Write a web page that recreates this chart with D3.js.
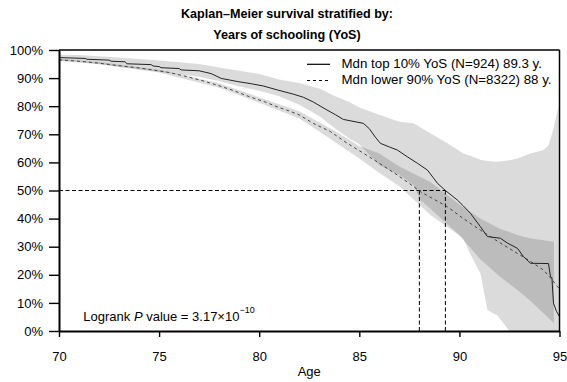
<!DOCTYPE html>
<html><head><meta charset="utf-8">
<script src="https://cdn.jsdelivr.net/npm/d3@7"></script>
<style>
body{margin:0;background:#fff}
svg{display:block}
text{font-family:"Liberation Sans",Arial,Helvetica,sans-serif;fill:#000}
</style></head><body>
<svg id="chart" width="567" height="382"></svg>
<script>
// ---- data (survival in %) ----
const titleLines = ["Kaplan\u2013Meier survival stratified by:", "Years of schooling (YoS)"];
const xTicks = [70, 75, 80, 85, 90, 95];
const yTicks = [0, 10, 20, 30, 40, 50, 60, 70, 80, 90, 100];
const legendLabels = ["Mdn top 10% YoS (N=924) 89.3 y.", "Mdn lower 90% YoS (N=8322) 88 y."];
const medians = [89.3, 88];

// top 10% YoS (solid)
const topAges = [70,71.3,71.4,72.5,72.6,73.3,73.4,74.6,74.7,75,75.1,76,76.1,77,77.6,78.1,78.9,79.6,80.2,80.9,81.7,82.2,82.7,83.3,83.8,84.2,85.2,85.5,85.8,86.05,86.5,86.9,87.4,87.9,88.4,88.7,88.9,89.3,89.9,90.2,90.55,90.8,91.05,91.4,92.05,92.4,92.9,93.2,93.55,94.45,94.55,94.62,94.7,94.85,95];
const topSurv = [97.3,97.0,96.7,96.4,96.0,95.8,95.1,94.8,94.3,94.1,93.7,93.4,92.9,92.6,91.6,89.9,88.8,88.0,87.2,85.8,84.3,83.2,81.5,79.0,77.0,75.3,73.9,72.0,69.0,66.8,65.5,64.4,62.0,59.7,57.3,54.5,52.6,50.0,46.6,44.5,41.9,39.5,37.1,33.6,33.0,31.3,29.4,26.5,24.1,24.0,19.3,19.0,9.9,7.0,5.1];
const topCIAges = [70,71,72,73,74,75,76,77,78,79,80,81,82,83,83.8,84.5,85,86,87,87.7,88.05,88.55,89.4,90.2,90.5,91.05,91.4,91.9,92.5,92.9,93.55,94.2,94.45,94.7,94.95];
const topCIUpper = [98.3,98.2,97.8,97.3,96.8,96.3,95.6,95.0,93.8,92.6,91.5,89.5,88.3,86.3,83.5,81.5,79.5,77.0,74.5,73.9,72.5,70.4,66.8,63.2,62.5,60.9,60.5,60.2,60.8,61.4,63.2,64.4,66,72,80];
const topCILower = [96.2,95.8,95.0,94.0,93.2,92.2,91.3,90.5,89.0,87.0,85.5,83.5,80.5,76.5,72.0,68.5,66.5,59.0,55.5,52.0,46.6,43.5,38.0,32.8,28.0,20.5,7.5,5.5,0,0,0,0,0,0,0];

// lower 90% YoS (dashed)
const lowAges = [70,71,72,73,74,74.5,75.5,76.4,77.2,77.9,78.7,79.5,80.3,81,81.5,82,82.7,83.55,84.4,85.2,86,86.9,87.5,88.05,88.7,89.4,90.2,91.05,92,92.9,93.5,94.2,94.6,94.9,95];
const lowSurv = [96.5,96.0,95.3,94.4,93.6,93.1,92.0,90.5,89.0,87.5,85.6,83.4,81.5,79.5,78.3,76.9,73.9,71.0,66.8,63.3,59.7,55.5,52.5,49.6,47.0,44.2,40.0,35.9,31.5,27.6,25.0,21.7,18.5,15.8,15.0];
const lowCIAges = [70,72,75,78,80,82,83,84,85,86,87,88.55,90,91.05,92,92.9,93.5,94.2,94.72];
const lowCIUpper = [96.9,95.7,93.0,88.2,83.2,78.2,74.3,70.3,65.8,63.2,58.5,53.0,45.0,40.0,36.5,34.2,33.0,32.3,31.8];
const lowCILower = [96.1,94.9,92.0,86.6,81.2,75.6,71.0,66.2,61.4,56.2,51.5,41.3,34.0,25.5,19.5,14.6,11.0,6.3,2.8];

const pText = {pre: "Logrank ", italic: "P", post: " value = 3.17\u00d710", sup: "\u221210"};

// ---- drawing ----
const svg = d3.select("#chart");
const x = d3.scaleLinear().domain([70, 95]).range([59, 559.5]);
const y = d3.scaleLinear().domain([0, 100]).range([331, 50]);
const font = "Liberation Sans, Arial, Helvetica, sans-serif";

const zip = (a, b, c) => a.map((v, i) => ({a: v, u: b[i], l: c ? c[i] : null}));

const bandFill = "rgba(0,0,0,0.14)";
svg.append("path")
  .datum(zip(topCIAges, topCIUpper, topCILower))
  .attr("fill", bandFill)
  .attr("d", d3.area().x(d => x(d.a)).y0(d => y(d.l)).y1(d => y(d.u)));
svg.append("path")
  .datum(zip(lowCIAges, lowCIUpper, lowCILower))
  .attr("fill", bandFill)
  .attr("d", d3.area().x(d => x(d.a)).y0(d => y(d.l)).y1(d => y(d.u)));

// median reference lines
svg.append("line")
  .attr("x1", x(70)).attr("x2", x(d3.max(medians)))
  .attr("y1", y(50)).attr("y2", y(50))
  .attr("stroke", "#000").attr("stroke-width", 1).attr("stroke-dasharray", "4,2.5");
medians.forEach(m => {
  svg.append("line")
    .attr("x1", x(m)).attr("x2", x(m))
    .attr("y1", y(50)).attr("y2", y(0))
    .attr("stroke", "#000").attr("stroke-width", 1).attr("stroke-dasharray", "4,2.5");
});

// survival curves
svg.append("path")
  .datum(zip(lowAges, lowSurv))
  .attr("fill", "none").attr("stroke", "#444").attr("stroke-width", 1)
  .attr("stroke-dasharray", "3,3")
  .attr("d", d3.line().x(d => x(d.a)).y(d => y(d.u)));
svg.append("path")
  .datum(zip(topAges, topSurv))
  .attr("fill", "none").attr("stroke", "#222").attr("stroke-width", 1)
  .attr("d", d3.line().x(d => x(d.a)).y(d => y(d.u)));

// box (top & right)
svg.append("line").attr("x1", x(70)).attr("x2", x(95)).attr("y1", y(100)).attr("y2", y(100))
  .attr("stroke", "#000").attr("stroke-width", 1.3);
svg.append("line").attr("x1", x(95)).attr("x2", x(95)).attr("y1", y(100)).attr("y2", y(0))
  .attr("stroke", "#000").attr("stroke-width", 1.5);

// axes
const yAxis = svg.append("g").attr("transform", `translate(${x(70)},0)`)
  .call(d3.axisLeft(y).tickValues(yTicks).tickSize(10).tickSizeOuter(0).tickPadding(6).tickFormat(d => d + "%"));
const xAxis = svg.append("g").attr("transform", `translate(0,${y(0)})`)
  .call(d3.axisBottom(x).tickValues(xTicks).tickSize(6).tickSizeOuter(0).tickPadding(14.3).tickFormat(d3.format("d")));
[yAxis, xAxis].forEach(g => {
  g.select(".domain").attr("stroke", "#000").attr("stroke-width", 2);
  g.selectAll(".tick line").attr("stroke", "#000").attr("stroke-width", 1.4);
  g.selectAll(".tick text").attr("font-size", 13).attr("font-family", font).attr("fill", "#000");
});

// axis title
svg.append("text").attr("x", (x(70) + x(95)) / 2).attr("y", 376).attr("text-anchor", "middle")
  .attr("font-size", 13).text("Age");

// title
titleLines.forEach((t, i) => {
  svg.append("text").attr("x", 287).attr("y", 17.5 + i * 21).attr("text-anchor", "middle")
    .attr("font-size", 12.6).attr("font-weight", "bold").text(t);
});

// legend
const legY = [64.3, 80.5];
svg.append("line").attr("x1", 307).attr("x2", 330).attr("y1", legY[0]).attr("y2", legY[0])
  .attr("stroke", "#000").attr("stroke-width", 1.2);
svg.append("line").attr("x1", 307).attr("x2", 330).attr("y1", legY[1]).attr("y2", legY[1])
  .attr("stroke", "#000").attr("stroke-width", 1).attr("stroke-dasharray", "3,3");
legendLabels.forEach((t, i) => {
  svg.append("text").attr("x", 341.5).attr("y", 67.5 + i * 16).attr("font-size", 13.3).text(t);
});

// logrank annotation
const pt = svg.append("text").attr("x", 83.3).attr("y", 320.5).attr("font-size", 13);
pt.append("tspan").text(pText.pre);
pt.append("tspan").attr("font-style", "italic").text(pText.italic);
pt.append("tspan").text(pText.post);
pt.append("tspan").attr("font-size", 9).attr("dy", -8).text(pText.sup);
</script>
</body></html>
